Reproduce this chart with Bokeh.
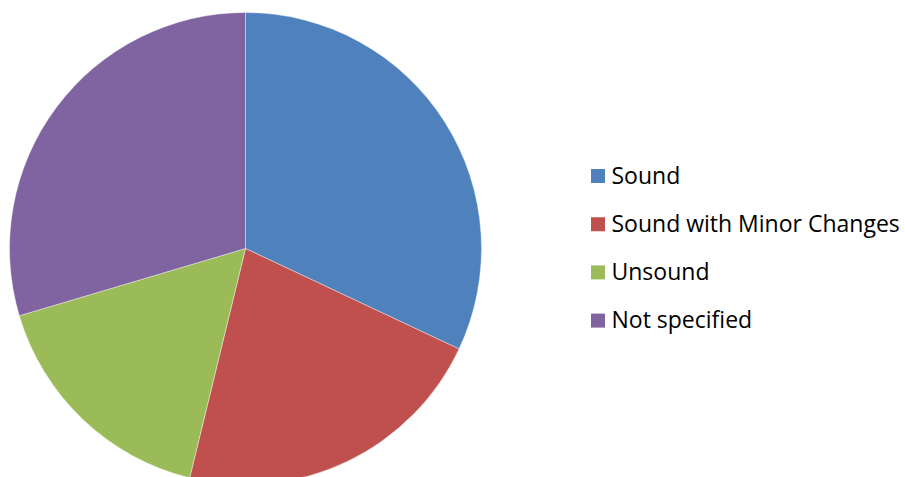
import numpy as np
from bokeh.plotting import figure
from bokeh.models import Range1d, ColumnDataSource
from bokeh.core.properties import value
from bokeh.embed import file_html
from bokeh.resources import INLINE

categories = ["Sound", "Sound with Minor Changes", "Unsound", "Not specified"]
shares = [32.0, 21.8, 16.6, 29.6]
colors = ["#4F81BD", "#C0504D", "#9BBB59", "#8064A2"]

W, H = 905, 477
cx, cy, r = 245, H - 248, 236

frac = np.array(shares) / sum(shares)
cum = np.concatenate([[0], np.cumsum(frac)])
start = np.pi / 2 - cum[:-1] * 2 * np.pi
end = np.pi / 2 - cum[1:] * 2 * np.pi

src = ColumnDataSource(dict(cat=categories, start=start, end=end, color=colors))

p = figure(width=W, height=H, x_range=Range1d(0, W), y_range=Range1d(0, H),
           x_axis_type=None, y_axis_type=None, toolbar_location=None,
           output_backend="svg", min_border=0)
p.grid.visible = False
p.outline_line_color = None
p.background_fill_color = "white"
p.border_fill_color = "white"

p.wedge(x=cx, y=cy, radius=r, start_angle="start", end_angle="end",
        direction="clock", fill_color="color", line_color="white",
        line_width=0.4, source=src)

# legend
ly0 = H - 175.5
step = 48.2
ly = [ly0 - i * step for i in range(len(categories))]
leg = ColumnDataSource(dict(y=ly, cat=categories, color=colors))
p.scatter(x=597.5, y="y", marker="square", size=14, fill_color="color",
          line_color=None, source=leg)
p.text(x=611, y=[v + 1.5 for v in ly], text=categories, text_font=value("Open Sans"),
       text_font_size="23px", text_baseline="middle", text_color="black")

open("out.html", "w").write(file_html(p, INLINE))
